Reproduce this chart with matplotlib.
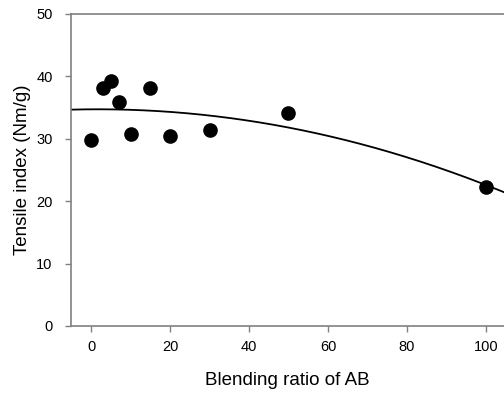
"""Scatter with quadratic fit: tensile index vs blending ratio of AB."""

import matplotlib
matplotlib.use("Agg")
import matplotlib.pyplot as plt
import numpy as np

SPINE_GRAY = "#808080"

blend_ratio = [0, 3, 5, 7, 10, 15, 20, 30, 50, 100]
tensile_index = [29.8, 38.2, 39.3, 35.9, 30.8, 38.1, 30.4, 31.4, 34.2, 22.3]
x_ticks = [0, 20, 40, 60, 80, 100]
y_ticks = [0, 10, 20, 30, 40, 50]


def main() -> None:
    plt.rcParams["font.family"] = ["Liberation Sans", "DejaVu Sans"]

    fig = plt.figure(figsize=(5.04, 3.95), dpi=100)
    ax = fig.add_axes([0.140, 0.1747, 0.860, 0.790])

    x = np.array(blend_ratio, dtype=float)
    y = np.array(tensile_index, dtype=float)
    coef = np.polyfit(x, y, 2)
    xs = np.linspace(-5.2, 104.6, 300)
    ax.plot(xs, np.polyval(coef, xs), color="black", lw=1.3, zorder=2)
    ax.plot(x, y, "o", color="black", ms=9.5, zorder=3)

    ax.set_xlim(-5.2, 104.6)
    ax.set_ylim(0, 50)
    ax.set_xticks(x_ticks)
    ax.set_yticks(y_ticks)
    ax.set_xlabel("Blending ratio of AB", fontsize=13.5, labelpad=13)
    ax.set_ylabel("Tensile index (Nm/g)", fontsize=13.5, labelpad=4)

    for side in ("left", "bottom", "top"):
        ax.spines[side].set_color(SPINE_GRAY)
        ax.spines[side].set_linewidth(1.2)
    ax.spines["right"].set_visible(False)
    ax.tick_params(direction="out", length=4, width=1, color=SPINE_GRAY,
                   labelsize=10.5)
    ax.tick_params(axis="x", pad=6)
    ax.tick_params(axis="y", pad=9)

    fig.savefig("out.png", dpi=100, facecolor="white")
    plt.close(fig)


if __name__ == "__main__":
    main()
